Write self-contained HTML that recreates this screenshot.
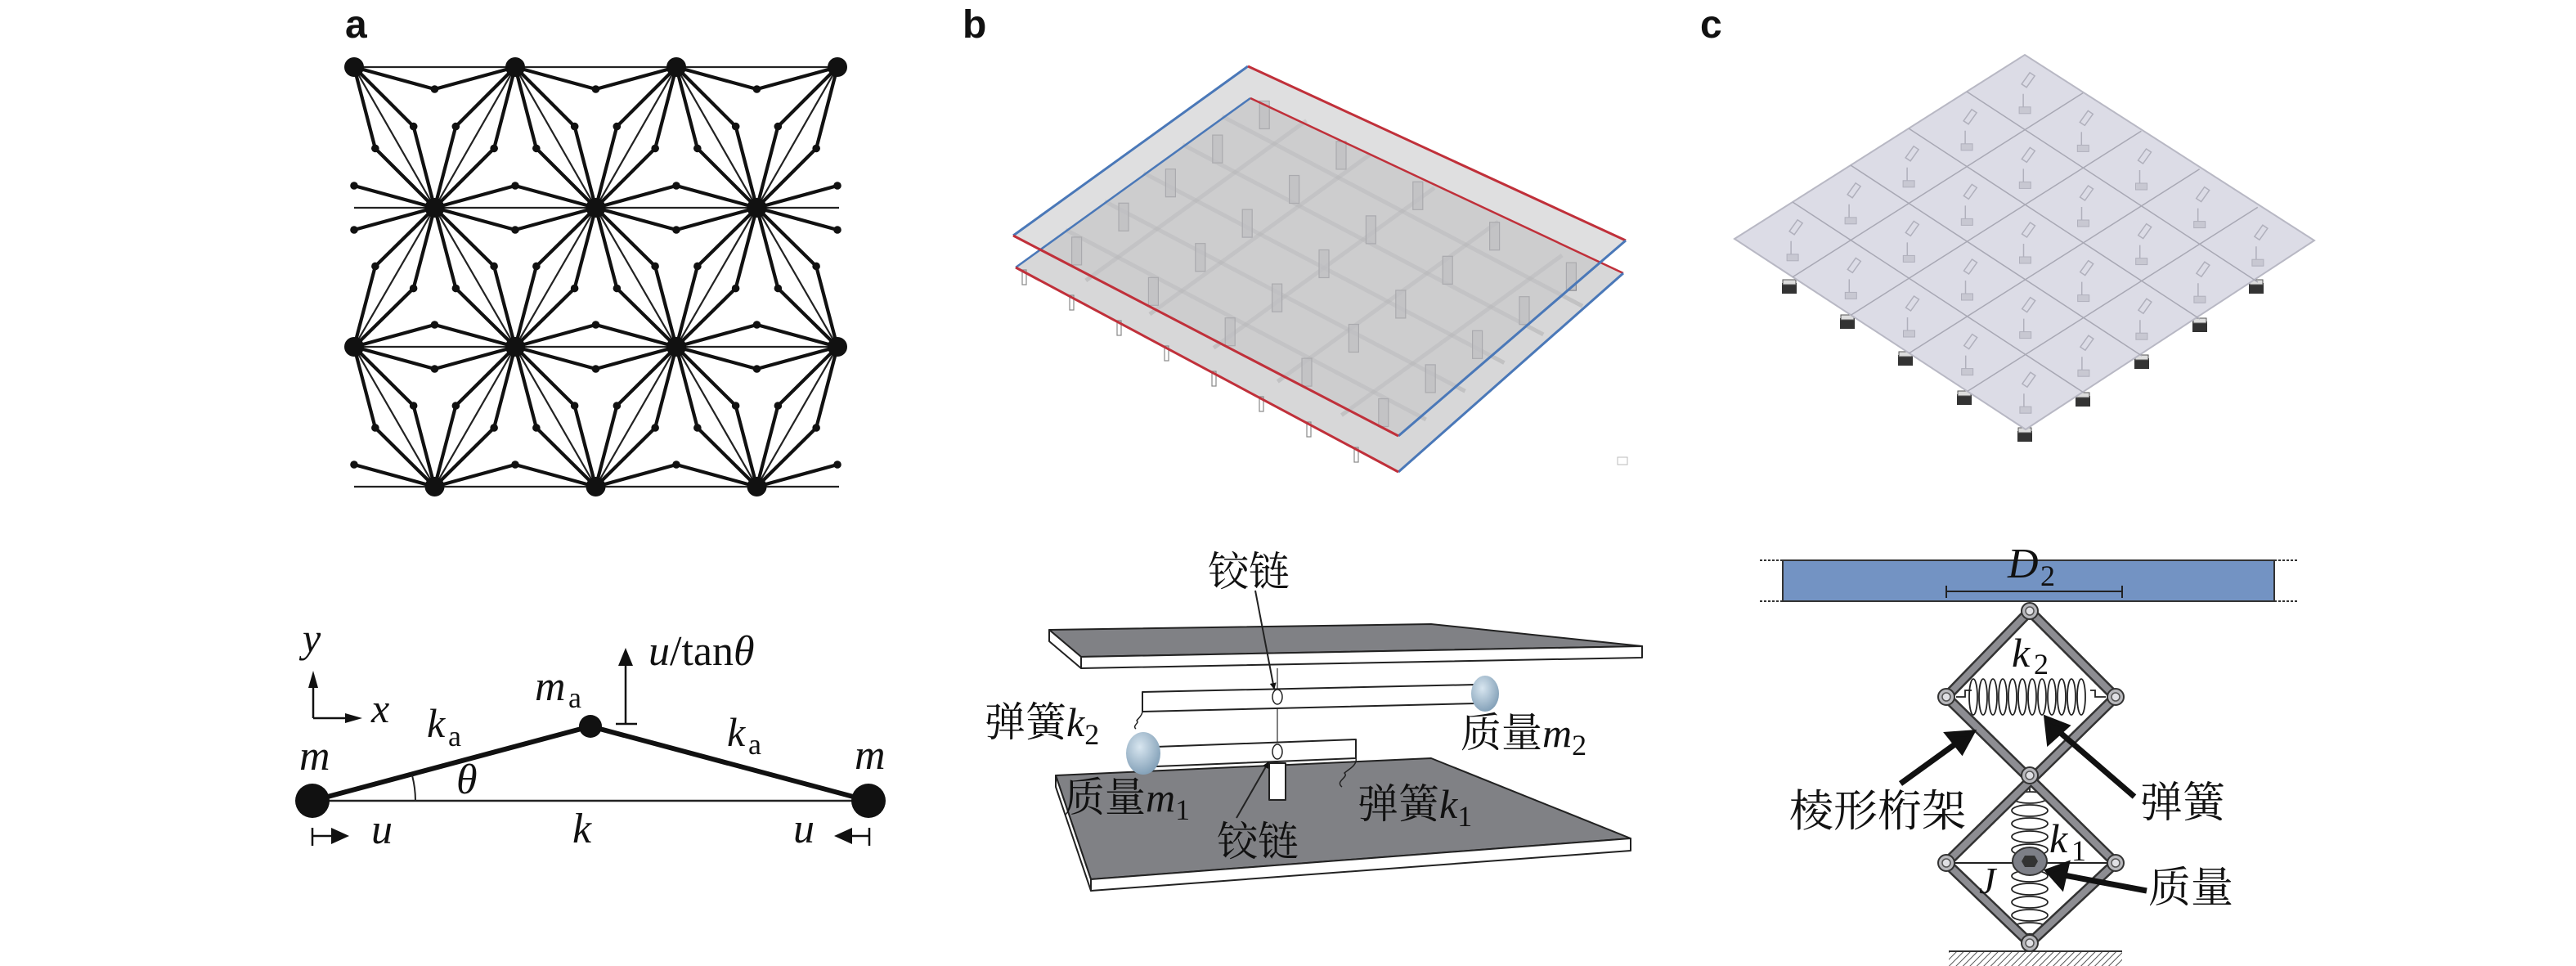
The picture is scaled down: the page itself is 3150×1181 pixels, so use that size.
<!DOCTYPE html>
<html><head><meta charset="utf-8"><style>
html,body{margin:0;padding:0;background:#fff;}
svg{display:block;}
.lbl{font-family:"Liberation Sans",sans-serif;font-weight:bold;font-size:48px;fill:#111;}
.mi{font-family:"Liberation Serif",serif;font-style:italic;fill:#111;}
.rm{font-family:"Liberation Serif",serif;fill:#111;}
.cj{font-family:"Liberation Serif","Noto Serif CJK SC",serif;fill:#111;}
</style></head><body>
<svg id="s" width="3150" height="1181" viewBox="0 0 3150 1181" xmlns="http://www.w3.org/2000/svg">
<defs>
<marker id="ah" markerWidth="8" markerHeight="8" refX="7" refY="4" orient="auto" markerUnits="userSpaceOnUse"><path d="M0,0 L8,4 L0,8 z" fill="#111"/></marker>
<radialGradient id="ball" cx="40%" cy="35%" r="70%"><stop offset="0" stop-color="#d8e6f0"/><stop offset="1" stop-color="#7f9db5"/></radialGradient>
<pattern id="hatch" width="6" height="6" patternUnits="userSpaceOnUse" patternTransform="rotate(45)"><rect width="6" height="6" fill="#fff"/><line x1="0" y1="0" x2="0" y2="6" stroke="#555" stroke-width="2"/></pattern>
</defs>

<text class="lbl" x="422" y="46">a</text>
<text class="lbl" x="1177" y="46">b</text>
<text class="lbl" x="2079" y="46">c</text>

<g id="lattice"></g>

<g>
<line x1="382" y1="979" x2="1062" y2="979" stroke="#222" stroke-width="2.5"/>
<line x1="382" y1="979" x2="722" y2="888" stroke="#111" stroke-width="6"/>
<line x1="722" y1="888" x2="1062" y2="979" stroke="#111" stroke-width="6"/>
<path d="M508,979 A126,126 0 0 0 504,948" fill="none" stroke="#222" stroke-width="2"/>
<circle cx="382" cy="979" r="21" fill="#111"/>
<circle cx="1062" cy="979" r="21" fill="#111"/>
<ellipse cx="722" cy="888" rx="14" ry="14" fill="#111"/>
<text class="mi" x="366" y="941" font-size="52">m</text>
<text class="mi" x="1045" y="940" font-size="52">m</text>
<text class="mi" x="522" y="901" font-size="50">k</text><text class="rm" x="548" y="912" font-size="36">a</text>
<text class="mi" x="889" y="912" font-size="50">k</text><text class="rm" x="915" y="922" font-size="36">a</text>
<text class="mi" x="654" y="856" font-size="52">m</text><text class="rm" x="695" y="865" font-size="36">a</text>
<text class="mi" x="558" y="970" font-size="52">θ</text>
<line x1="765" y1="885" x2="765" y2="810" stroke="#111" stroke-width="2.5"/>
<line x1="753" y1="885" x2="779" y2="885" stroke="#111" stroke-width="2.5"/>
<path d="M756,814 L765,792 L774,814 z" fill="#111"/>
<text x="793" y="813" font-size="52"><tspan class="mi">u</tspan><tspan class="rm">/tan</tspan><tspan class="mi">θ</tspan></text>
<line x1="383" y1="878" x2="383" y2="838" stroke="#111" stroke-width="2.5"/>
<path d="M377,841 L383,820 L389,841 z" fill="#111"/>
<line x1="383" y1="878" x2="425" y2="878" stroke="#111" stroke-width="2.5"/>
<path d="M422,872 L443,878 L422,884 z" fill="#111"/>
<text class="mi" x="370" y="797" font-size="50">y</text>
<text class="mi" x="454" y="883" font-size="50">x</text>
<line x1="382" y1="1012" x2="382" y2="1034" stroke="#111" stroke-width="2.5"/>
<line x1="382" y1="1022" x2="408" y2="1022" stroke="#111" stroke-width="2.5"/>
<path d="M405,1012 L427,1022 L405,1032 z" fill="#111"/>
<text class="mi" x="454" y="1031" font-size="52">u</text>
<text class="mi" x="700" y="1030" font-size="52">k</text>
<text class="mi" x="970" y="1030" font-size="52">u</text>
<path d="M1042,1012 L1020,1022 L1042,1032 z" fill="#111"/>
<line x1="1040" y1="1022" x2="1063" y2="1022" stroke="#111" stroke-width="2.5"/>
<line x1="1063" y1="1012" x2="1063" y2="1034" stroke="#111" stroke-width="2.5"/>
</g>

<g id="pb">
<polygon points="1242,327 1529,120 1985,334 1710,577" fill="#c9c9cb" fill-opacity="0.75"/>
<g id="pbgrid"></g>
<polygon points="1239,288 1526,81 1988,294 1710,533" fill="#c4c4c6" fill-opacity="0.55"/>
<line x1="1242" y1="327" x2="1529" y2="120" stroke="#4a78b8" stroke-width="2.5"/>
<line x1="1529" y1="120" x2="1985" y2="334" stroke="#c0303a" stroke-width="2.5"/>
<line x1="1985" y1="334" x2="1710" y2="577" stroke="#4a78b8" stroke-width="3"/>
<line x1="1710" y1="577" x2="1242" y2="327" stroke="#c0303a" stroke-width="3"/>
<line x1="1239" y1="288" x2="1526" y2="81" stroke="#4a78b8" stroke-width="3"/>
<line x1="1526" y1="81" x2="1988" y2="294" stroke="#c0303a" stroke-width="3"/>
<line x1="1988" y1="294" x2="1710" y2="533" stroke="#4a78b8" stroke-width="3"/>
<line x1="1710" y1="533" x2="1239" y2="288" stroke="#c0303a" stroke-width="3"/>
<rect x="1978" y="559" width="12" height="9" fill="none" stroke="#bbb" stroke-width="1"/>
</g>

<g>
<g id="pcfeet"></g>
<polygon points="2121,292 2476,67 2830,294 2477,525" fill="#dcdce6" stroke="#b8b8c4" stroke-width="2"/>
<g id="pcgrid"></g>
</g>

<g stroke="#222" stroke-width="2" stroke-linejoin="round">
<polygon points="1291,948 1750,927 1994,1025 1334,1075" fill="#808185"/>
<polygon points="1334,1075 1994,1025 1994,1040 1334,1089" fill="#fff"/>
<polygon points="1291,948 1334,1075 1334,1089 1291,962" fill="#fff"/>
<line x1="1562" y1="817" x2="1562" y2="933" stroke="#555" stroke-width="1.5"/>
<rect x="1552" y="933" width="20" height="45" fill="#fff"/>
<polygon points="1414,913 1658,904 1658,927 1414,937" fill="#fff"/>
<ellipse cx="1398" cy="921" rx="21" ry="26" fill="url(#ball)" stroke="none"/>
<path d="M1658,927 C1660,935 1650,940 1644,945 C1650,950 1632,955 1641,962" fill="none" stroke-width="1.5"/>
<ellipse cx="1562" cy="919" rx="6" ry="9" fill="#fff" stroke-width="1.5"/>
<polygon points="1397,846 1804,837 1804,860 1397,870" fill="#fff"/>
<ellipse cx="1816" cy="848" rx="17" ry="22" fill="url(#ball)" stroke="none"/>
<path d="M1397,870 C1396,876 1392,878 1390,881 C1394,884 1384,887 1389,891" fill="none" stroke-width="1.5"/>
<ellipse cx="1562" cy="852" rx="6" ry="9" fill="#fff" stroke-width="1.5"/>
<polygon points="1283,770 1750,763 2008,790 1322,803" fill="#808185"/>
<polygon points="1322,803 2008,790 2008,804 1322,817" fill="#fff"/>
<polygon points="1283,770 1322,803 1322,817 1283,784" fill="#fff"/>
<line x1="1535" y1="722" x2="1558" y2="842" stroke-width="2" marker-end="url(#ah)"/>
<line x1="1512" y1="1000" x2="1551" y2="932" stroke-width="2" marker-end="url(#ah)"/>
</g>
<g font-size="50">
<text class="cj" x="1477" y="716">铰链</text>
<text class="cj" x="1204" y="900">弹簧<tspan class="mi">k</tspan><tspan class="rm" font-size="36" dy="10">2</tspan></text>
<text class="cj" x="1786" y="913">质量<tspan class="mi">m</tspan><tspan class="rm" font-size="36" dy="10">2</tspan></text>
<text class="cj" x="1301" y="992">质量<tspan class="mi">m</tspan><tspan class="rm" font-size="36" dy="10">1</tspan></text>
<text class="cj" x="1660" y="1000">弹簧<tspan class="mi">k</tspan><tspan class="rm" font-size="36" dy="10">1</tspan></text>
<text class="cj" x="1488" y="1046">铰链</text>
</g>

<g>
<rect x="2180" y="685" width="601" height="50" fill="#7393c3" stroke="#333" stroke-width="2"/>
<line x1="2152" y1="685" x2="2180" y2="685" stroke="#333" stroke-width="2" stroke-dasharray="3,2"/>
<line x1="2152" y1="735" x2="2180" y2="735" stroke="#333" stroke-width="2" stroke-dasharray="3,2"/>
<line x1="2781" y1="685" x2="2809" y2="685" stroke="#333" stroke-width="2" stroke-dasharray="3,2"/>
<line x1="2781" y1="735" x2="2809" y2="735" stroke="#333" stroke-width="2" stroke-dasharray="3,2"/>
<text class="mi" x="2455" y="706" font-size="52">D</text><text class="rm" x="2495" y="716" font-size="36">2</text>
<line x1="2380" y1="723" x2="2595" y2="723" stroke="#222" stroke-width="2"/>
<line x1="2380" y1="716" x2="2380" y2="731" stroke="#222" stroke-width="2"/>
<line x1="2595" y1="716" x2="2595" y2="731" stroke="#222" stroke-width="2"/>
<rect x="2383" y="1163" width="212" height="18" fill="url(#hatch)"/>
<line x1="2383" y1="1163" x2="2595" y2="1163" stroke="#333" stroke-width="2"/>
<g id="springs" fill="none" stroke="#222" stroke-width="1.8"></g>
<line x1="2380" y1="1055" x2="2587" y2="1055" stroke="#222" stroke-width="2"/>
<g stroke-linecap="round">
<g stroke="#333" stroke-width="13">
<line x1="2482" y1="747" x2="2380" y2="852"/><line x1="2482" y1="747" x2="2587" y2="852"/>
<line x1="2380" y1="852" x2="2587" y2="1055"/><line x1="2587" y1="852" x2="2380" y2="1055"/>
<line x1="2380" y1="1055" x2="2482" y2="1153"/><line x1="2587" y1="1055" x2="2482" y2="1153"/>
</g>
<g stroke="#8d8d92" stroke-width="8">
<line x1="2482" y1="747" x2="2380" y2="852"/><line x1="2482" y1="747" x2="2587" y2="852"/>
<line x1="2380" y1="852" x2="2587" y2="1055"/><line x1="2587" y1="852" x2="2380" y2="1055"/>
<line x1="2380" y1="1055" x2="2482" y2="1153"/><line x1="2587" y1="1055" x2="2482" y2="1153"/>
</g>
</g>
<ellipse cx="2482" cy="1053" rx="21" ry="17" fill="#7d7f87" stroke="#333" stroke-width="2"/>
<polygon points="2476,1046 2488,1046 2492,1053 2488,1060 2476,1060 2472,1053" fill="#333"/>
<g id="pins"></g>
<text class="mi" x="2460" y="815" font-size="50">k</text><text class="rm" x="2487" y="824" font-size="36">2</text>
<text class="mi" x="2506" y="1042" font-size="50">k</text><text class="rm" x="2533" y="1052" font-size="36">1</text>
<text class="mi" x="2420" y="1092" font-size="46">J</text>
<g stroke="#111" stroke-width="7" fill="#111">
<line x1="2324" y1="958" x2="2396" y2="906"/><path d="M2411,896 L2383,898 L2399,918 z"/>
<line x1="2610" y1="974" x2="2515" y2="892"/><path d="M2503,879 L2506,906 L2526,888 z"/>
<line x1="2625" y1="1089" x2="2524" y2="1070"/><path d="M2505,1065 L2527,1057 L2521,1083 z"/>
</g>
<text class="cj" x="2188" y="1010" font-size="54">棱形桁架</text>
<text class="cj" x="2617" y="999" font-size="52">弹簧</text>
<text class="cj" x="2627" y="1103" font-size="52">质量</text>
</g>
</svg>
<script>
(function(){
var NS="http://www.w3.org/2000/svg";
function el(p,t,a){var e=document.createElementNS(NS,t);for(var k in a)e.setAttribute(k,a[k]);p.appendChild(e);return e;}
var L=document.getElementById('lattice');
var ys=[82,254,424,595],xA=[433,630,827,1024],xB=[531.5,728.5,925.5];
var rows=[xA,xB,xA,xB];
var thin=[],thick=[],small=[];
function kite(P,Q,sides,Qreal){
  var mx=(P[0]+Q[0])/2,my=(P[1]+Q[1])/2,dx=Q[0]-P[0],dy=Q[1]-P[1],l=Math.hypot(dx,dy);
  var nx=-dy/l,ny=dx/l;
  sides.forEach(function(s){var S=[mx+s*27*nx,my+s*27*ny];small.push(S);thick.push([P,S]);if(Qreal)thick.push([S,Q]);});
}
for(var r=0;r<4;r++){
  var xs=rows[r],y=ys[r];
  var sides = r==0?[1]:(r==3?[-1]:[1,-1]);
  for(var i=0;i<xs.length-1;i++){thin.push([[xs[i],y],[xs[i+1],y]]);kite([xs[i],y],[xs[i+1],y],sides,true);}
  if(xs.length==3){
    thin.push([[433,y],[xs[0],y]]);thin.push([[xs[2],y],[1026,y]]);
    kite([xs[0],y],[334.5,y],sides.map(function(s){return -s;}),false);
    kite([xs[2],y],[1122.5,y],sides,false);
  }
  if(r<3){
    var xn=rows[r+1],yn=ys[r+1];
    xs.forEach(function(x){xn.forEach(function(x2){if(Math.abs(x-x2)<100){thin.push([[x,y],[x2,yn]]);kite([x,y],[x2,yn],[1,-1],true);}});});
  }
}
thin.forEach(function(s){el(L,'line',{x1:s[0][0],y1:s[0][1],x2:s[1][0],y2:s[1][1],stroke:'#222','stroke-width':2.2});});
thick.forEach(function(s){el(L,'line',{x1:s[0][0],y1:s[0][1],x2:s[1][0],y2:s[1][1],stroke:'#111','stroke-width':4.2});});
small.forEach(function(S){el(L,'circle',{cx:S[0],cy:S[1],r:4.8,fill:'#111'});});
for(var r=0;r<4;r++)rows[r].forEach(function(x){el(L,'circle',{cx:x,cy:ys[r],r:12,fill:'#111'});});

var G=document.getElementById('pbgrid');
var Lf=[1241,308],T=[1528,100],B=[1710,555];
function P(u,v){return [Lf[0]+u*(T[0]-Lf[0])+v*(B[0]-Lf[0]),Lf[1]+u*(T[1]-Lf[1])+v*(B[1]-Lf[1])];}
for(var i=1;i<6;i++){var a=P(i/6,0.03),b=P(i/6,0.97);el(G,'line',{x1:a[0],y1:a[1],x2:b[0],y2:b[1],stroke:'#9a9a9e','stroke-width':5,'stroke-opacity':0.35});}
for(var j=1;j<6;j++){var a=P(0.03,j/6),b=P(0.97,j/6);el(G,'line',{x1:a[0],y1:a[1],x2:b[0],y2:b[1],stroke:'#9a9a9e','stroke-width':5,'stroke-opacity':0.35});}
for(var i=0;i<5;i++)for(var j=0;j<5;j++){var c=P((i+0.5)/5,(j+0.5)/5);el(G,'rect',{x:c[0]-6,y:c[1]-22,width:12,height:34,fill:'#b8b8bc',stroke:'#8a8a90','stroke-width':1.2,'fill-opacity':0.7});}
for(var j=0;j<8;j++){el(G,'rect',{x:1250+j*58,y:330+j*31,width:5,height:18,fill:'none',stroke:'#888','stroke-width':1.2});}

var C=document.getElementById('pcgrid');
var cL=[2121,292],cT=[2476,67],cB=[2477,525];
function Q(u,v){return [cL[0]+u*(cT[0]-cL[0])+v*(cB[0]-cL[0]),cL[1]+u*(cT[1]-cL[1])+v*(cB[1]-cL[1])];}
for(var i=1;i<5;i++){var a=Q(i/5,0),b=Q(i/5,1);el(C,'line',{x1:a[0],y1:a[1],x2:b[0],y2:b[1],stroke:'#a8a8b4','stroke-width':1.5});
 a=Q(0,i/5);b=Q(1,i/5);el(C,'line',{x1:a[0],y1:a[1],x2:b[0],y2:b[1],stroke:'#a8a8b4','stroke-width':1.5});}
for(var i=0;i<5;i++)for(var j=0;j<5;j++){var c=Q((i+0.5)/5,(j+0.5)/5);
 el(C,'path',{d:'M'+(c[0]-4)+','+(c[1]-10)+' l10,-14 l6,4 l-10,14 z M'+(c[0]-2)+','+(c[1]+2)+' l0,16',fill:'none',stroke:'#b0b0bc','stroke-width':1.5});
 el(C,'rect',{x:c[0]-7,y:c[1]+18,width:14,height:8,fill:'#c8c8d2',stroke:'#b0b0bc','stroke-width':1});}
var F=document.getElementById('pcfeet');
[[2188,348],[2259,391],[2330,436],[2402,484],[2476,529],[2759,348],[2690,395],[2619,440],[2547,486]].forEach(function(p){
 el(F,'rect',{x:p[0]-9,y:p[1]-2,width:18,height:13,fill:'#333'});
 el(F,'rect',{x:p[0]-8,y:p[1]-6,width:16,height:6,fill:'#ddd',stroke:'#555','stroke-width':1});});

var SP=document.getElementById('springs');
var d='M2392,852 L2403,852 L2403,844 L2411,844';
for(var k=0;k<12;k++){var x=2413+k*12;d+=' M'+x+',852 m-5,0 a5,22 0 1,0 10,0 a5,22 0 1,0 -10,0';}
d+=' M2556,844 L2562,844 L2562,852 L2575,852';
el(SP,'path',{d:d});
var d2='M2482,960 L2482,968';
for(var k=0;k<11;k++){var y=975+k*16;if(y>1040&&y<1068)continue;d2+=' M2482,'+y+' m-22,0 a22,7 0 1,0 44,0 a22,7 0 1,0 -44,0';}
d2+=' M2482,1141 L2482,1150';
el(SP,'path',{d:d2});
var PN=document.getElementById('pins');
[[2482,747],[2380,852],[2587,852],[2482,948],[2380,1055],[2587,1055],[2482,1153]].forEach(function(p){
 el(PN,'circle',{cx:p[0],cy:p[1],r:10,fill:'#b8b8bc',stroke:'#333','stroke-width':2});
 el(PN,'circle',{cx:p[0],cy:p[1],r:5,fill:'#e0e0e4',stroke:'#555','stroke-width':1.5});});
})();
</script>
</body></html>
